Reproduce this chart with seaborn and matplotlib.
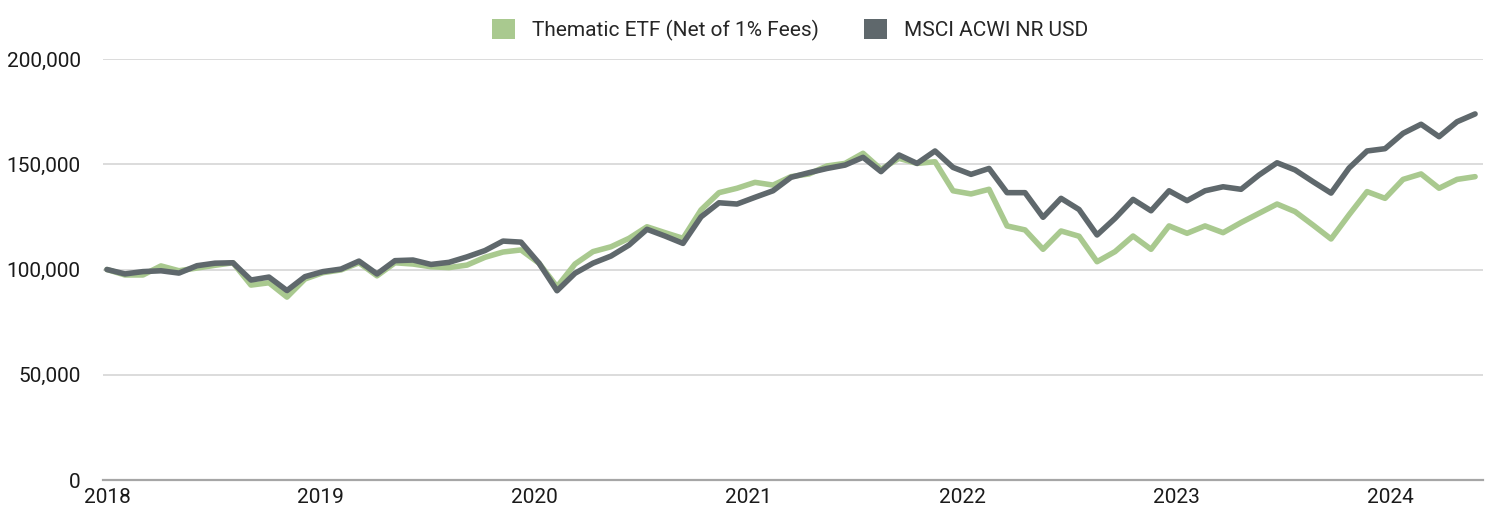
import numpy as np
import pandas as pd
import seaborn as sns
import matplotlib.pyplot as plt
from matplotlib.patches import Patch

# monthly values (thousands), Jan 2018 -> May 2024
etf = [100.0, 97.4, 97.4, 101.7, 99.4, 100.7, 102.0, 103.2, 92.6, 93.7, 86.9, 95.5,
       98.5, 99.8, 103.2, 97.0, 103.2, 102.6, 101.3, 100.9, 102.1, 105.8, 108.3, 109.3,
       103.0, 91.8, 102.6, 108.5, 110.8, 114.8, 120.3, 117.5, 114.8, 128.3, 136.5, 138.6,
       141.4, 140.1, 144.1, 145.4, 149.2, 150.4, 155.2, 147.6, 152.8, 150.4, 151.2, 137.4,
       135.9, 138.1, 120.7, 118.8, 109.6, 118.3, 115.8, 103.7, 108.5, 115.9, 109.6, 120.7,
       117.2, 120.7, 117.5, 122.3, 126.7, 131.1, 127.5, 121.1, 114.5, 126.0, 137.0, 133.8,
       142.8, 145.4, 138.6, 142.8, 144.1]
msci = [100.0, 97.9, 99.0, 99.4, 98.3, 101.8, 103.0, 103.2, 95.0, 96.4, 90.0, 96.6,
        99.0, 100.2, 104.0, 97.9, 104.2, 104.5, 102.4, 103.4, 106.0, 109.0, 113.5, 113.0,
        103.0, 89.9, 98.2, 103.0, 106.4, 111.6, 119.1, 115.9, 112.4, 125.0, 131.7, 131.1,
        134.3, 137.4, 143.8, 146.0, 148.0, 149.6, 153.3, 146.5, 154.4, 150.4, 156.3, 148.5,
        145.2, 148.0, 136.5, 136.5, 124.8, 133.8, 128.5, 116.4, 124.3, 133.3, 127.9, 137.4,
        132.7, 137.4, 139.3, 138.1, 144.9, 150.7, 147.3, 141.7, 136.3, 148.2, 156.3, 157.4,
        164.7, 169.0, 163.1, 170.2, 173.9]
series_names = ["Thematic ETF (Net of 1% Fees)", "MSCI ACWI NR USD"]
years = ["2018", "2019", "2020", "2021", "2022", "2023", "2024"]
colors = {series_names[0]: "#a9c98f", series_names[1]: "#5f686c"}

months = np.arange(len(etf))
df = pd.DataFrame({
    "month": np.concatenate([months, months]),
    "value": np.array(etf + msci) * 1000,
    "series": [series_names[0]] * len(etf) + [series_names[1]] * len(msci),
})

sns.set_style("white")
plt.rcParams["font.family"] = ["Roboto", "DejaVu Sans"]

fig = plt.figure(figsize=(14.94, 5.19), dpi=100)
ax = fig.add_axes([103 / 1494, 1 - 480 / 519, (1483 - 103) / 1494, (480 - 59) / 519])

sns.lineplot(data=df, x="month", y="value", hue="series", palette=colors,
             linewidth=4, legend=False, ax=ax,
             solid_joinstyle="round", solid_capstyle="round")

ax.set_xlim(-0.22, 76.44)
ax.set_ylim(0, 200000)
ax.set_yticks([0, 50000, 100000, 150000, 200000])
ax.set_yticklabels([f"{v:,}" for v in [0, 50000, 100000, 150000, 200000]])
# year labels sit slightly tighter than 12 points apart in the original
ax.set_xticks(np.arange(len(years)) * 11.88)
ax.set_xticklabels(years)
ax.set_xlabel("")
ax.set_ylabel("")

ax.yaxis.grid(True, color="#d6d6d6", linewidth=1.2)
ax.set_axisbelow(True)
for s in ["top", "right", "left"]:
    ax.spines[s].set_visible(False)
ax.spines["bottom"].set_color("#a6a6a6")
ax.spines["bottom"].set_linewidth(1.6)
ax.tick_params(axis="y", length=0, pad=16, labelsize=15, labelcolor="#1a1a1a")
ax.tick_params(axis="x", length=0, pad=6, labelsize=15, labelcolor="#1a1a1a")

handles = [Patch(facecolor=colors[n], edgecolor="none", label=n) for n in series_names]
fig.legend(handles=handles, loc="upper center", bbox_to_anchor=(790 / 1494, 1.0),
           ncol=2, frameon=False, fontsize=15, handlelength=1.1, handleheight=1.1,
           handletextpad=0.8, columnspacing=2.2)

fig.savefig("out.png", dpi=100)
